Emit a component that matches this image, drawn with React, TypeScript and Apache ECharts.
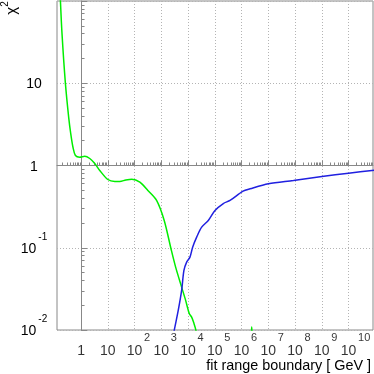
import React, { useEffect, useRef } from 'react';
import * as echarts from 'echarts';

// ---- data ----
const greenGeV = [0.1663, 0.1941, 0.2606, 0.3459, 0.4111, 0.5012, 0.6166, 0.8933, 1.377, 2.118, 3.258, 5.012, 10.0, 18.28, 28.12, 47.21, 79.25, 158.1, 314.8, 666.8, 1285, 2291, 3436, 5754, 8128, 11092, 13646, 16634, 19770, 23500, 316228, 2.19e6, 2.4e6, 2.63e6, 1e8];
const greenChi2 = [116.4, 40.18, 9.91, 3.828, 2.449, 1.656, 1.324, 1.262, 1.297, 1.216, 1.057, 0.869, 0.676, 0.64, 0.64, 0.667, 0.682, 0.627, 0.497, 0.376, 0.2148, 0.0979, 0.0581, 0.0332, 0.0229, 0.0159, 0.01435, 0.01202, 0.00989, 0.00748, 0.004, 0.0063, 0.01084, 0.0063, 0.00316];

const blueGeV = [2606, 3041, 4295, 5754, 7015, 8872, 11776, 14859, 20989, 32285, 57148, 101625, 207970, 370681, 1.138e6, 2.08e6, 1.009e7, 8.71e7, 1.009e9, 1e10, 7.52e10, 1e11];
const blueChi2 = [0.00748, 0.00989, 0.0173, 0.0303, 0.053, 0.0668, 0.0769, 0.1016, 0.1346, 0.1778, 0.2148, 0.2838, 0.3451, 0.3758, 0.4875, 0.5212, 0.5998, 0.6577, 0.7345, 0.8054, 0.869, 0.877];

const xLabelDecades = [0, 1, 2, 3, 4, 5, 6, 7, 8, 9, 10];
const xSupDecades = [2, 3, 4, 5, 6, 7, 8, 9, 10];
const yTickDecades = [-2, -1, 0, 1, 2];
const yLabelDecades = [-2, -1, 0, 1];
const xTitle = 'fit range boundary [ GeV ]';
const yTitleBase = 'χ';
const yTitleSup = '2';

const X_MIN = 0.1262;
const X_MAX = 8.2e10;
const Y_MIN = 0.01;
const Y_MAX = 100;

const FONT = 'Liberation Sans, Arial, Helvetica, sans-serif';

function minorTicks(lo: number, hi: number, min: number, max: number) {
  const out: number[] = [];
  for (let d = lo; d <= hi; d++) {
    for (let k = 2; k <= 9; k++) {
      const v = d + Math.log10(k);
      if (v > min && v < max) out.push(v);
    }
  }
  return out;
}

function toLog(xs: number[], ys: number[]) {
  return xs.map((x, i) => [Math.log10(x), Math.log10(ys[i])]);
}

export default function App() {
  const ref = useRef<HTMLDivElement>(null);
  useEffect(() => {
    if (!ref.current) return;
    const chart = echarts.init(ref.current, undefined, { renderer: 'svg' });
    const xmin = Math.log10(X_MIN);
    const xmax = Math.log10(X_MAX);
    const ymin = Math.log10(Y_MIN);
    const ymax = Math.log10(Y_MAX);
    const axisColor = '#888';
    const gridStyle = { type: [1, 2] as any, color: '#b4b4b4', width: 1 };

    const yFormatter = (v: number) => {
      const n = Math.round(v);
      if (n === 0) return '{b|1}';
      if (n === 1) return '{b|10}';
      return `{b|10}{s|${n}}`;
    };

    chart.setOption({
      animation: false,
      grid: {
        left: 57,
        right: 1,
        top: 1,
        bottom: 44,
        show: true,
        borderColor: axisColor,
        borderWidth: 1,
        outerBoundsMode: 'none',
      },
      xAxis: [
        {
          type: 'value',
          min: xmin,
          max: xmax,
          splitNumber: 12,
          position: 'bottom',
          axisLine: { show: true, lineStyle: { color: axisColor, width: 1 } },
          axisTick: { show: true, inside: true, length: 5, customValues: xLabelDecades, lineStyle: { color: axisColor } },
          axisLabel: { show: false },
          splitLine: { show: true, lineStyle: gridStyle },
        },
        {
          type: 'value',
          min: xmin,
          max: xmax,
          position: 'bottom',
          axisLine: { show: false },
          axisTick: { show: true, inside: true, length: 3, customValues: minorTicks(-1, 10, xmin, xmax), lineStyle: { color: axisColor } },
          axisLabel: { show: false },
          splitLine: { show: false },
        },
      ],
      yAxis: [
        {
          type: 'value',
          min: ymin,
          max: ymax,
          splitNumber: 4,
          position: 'left',
          axisLine: { show: true, lineStyle: { color: axisColor, width: 1 } },
          axisTick: { show: true, inside: true, length: 6, customValues: yTickDecades, lineStyle: { color: axisColor } },
          axisLabel: {
            customValues: yLabelDecades,
            formatter: yFormatter,
            align: 'center',
            margin: 23,
            color: '#000',
            hideOverlap: false,
            rich: {
              b: { fontSize: 14, lineHeight: 33, fontFamily: FONT, color: '#000' },
              s: { fontSize: 10, verticalAlign: 'top', fontFamily: FONT, color: '#000', padding: [0, 0, 0, 2] },
            },
          },
          splitLine: { show: true, lineStyle: gridStyle },
        },
        {
          type: 'value',
          min: ymin,
          max: ymax,
          position: 'left',
          axisLine: { show: false },
          axisTick: { show: true, inside: true, length: 3.5, customValues: minorTicks(-2, 1, ymin, ymax), lineStyle: { color: axisColor } },
          axisLabel: { show: false },
          splitLine: { show: false },
        },
      ],
      graphic: [
        {
          type: 'text',
          x: 10,
          y: 8,
          rotation: Math.PI / 2,
          style: {
            text: `{a|${yTitleBase}}{s|${yTitleSup}}`,
            align: 'center',
            verticalAlign: 'middle',
            fill: '#000',
            rich: {
              a: { fontSize: 15, lineHeight: 21, fontFamily: FONT, fill: '#000' },
              s: { fontSize: 10, verticalAlign: 'top', fontFamily: FONT, fill: '#000' },
            },
          },
        },
        {
          type: 'text',
          x: 371,
          y: 365,
          style: {
            text: xTitle,
            align: 'right',
            verticalAlign: 'middle',
            fontSize: 14.4,
            fontFamily: FONT,
            fill: '#000',
          },
        },
      ],
      series: [
        {
          type: 'line',
          xAxisIndex: 0,
          yAxisIndex: 0,
          data: toLog(greenGeV, greenChi2),
          showSymbol: false,
          smooth: 0.3,
          clip: true,
          lineStyle: { color: '#00ee00', width: 1.5 },
        },
        {
          type: 'line',
          xAxisIndex: 0,
          yAxisIndex: 0,
          data: toLog(blueGeV, blueChi2),
          showSymbol: false,
          smooth: 0.3,
          clip: true,
          lineStyle: { color: '#2020e0', width: 1.5 },
        },
        {
          // x tick labels: base "1" / "10"
          type: 'scatter',
          xAxisIndex: 0,
          yAxisIndex: 0,
          silent: true,
          clip: false,
          symbolSize: 0,
          data: xLabelDecades.map((n) => [n, ymin]),
          label: {
            show: true,
            position: 'bottom',
            distance: 13,
            formatter: (p: any) => (Math.round(p.value[0]) === 0 ? '1' : '10'),
            fontSize: 14,
            lineHeight: 14,
            fontFamily: FONT,
            color: '#000',
          },
        },
        {
          // x tick labels: exponents
          type: 'scatter',
          xAxisIndex: 0,
          yAxisIndex: 0,
          silent: true,
          clip: false,
          symbolSize: 0,
          data: xSupDecades.map((n) => [n, ymin]),
          label: {
            show: true,
            position: 'bottom',
            distance: 2,
            align: 'left',
            offset: [9.5, 0],
            formatter: (p: any) => `${Math.round(p.value[0])}`,
            fontSize: 11,
            lineHeight: 10,
            fontFamily: FONT,
            color: '#000',
          },
        },
      ],
    });
    return () => chart.dispose();
  }, []);
  return <div ref={ref} style={{ position: 'fixed', left: 0, top: 0, width: 374, height: 374 }} />;
}
